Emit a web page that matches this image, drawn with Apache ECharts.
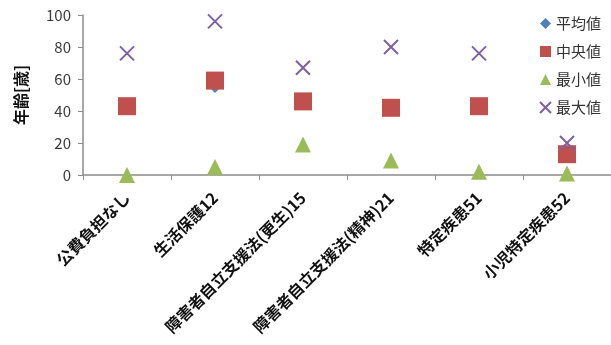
<!DOCTYPE html>
<html>
<head>
<meta charset="utf-8">
<script src="https://cdn.jsdelivr.net/npm/echarts@6/dist/echarts.min.js"></script>
<style>
  html, body { margin: 0; padding: 0; background: #fff; }
  #chart { width: 611px; height: 345px; }
</style>
</head>
<body>
<div id="chart"></div>
<script>
// Age statistics by public-expense category
const categories = ['公費負担なし', '生活保護12', '障害者自立支援法(更生)15', '障害者自立支援法(精神)21', '特定疾患51', '小児特定疾患52'];
const meanValues   = [43, 54, 47, 44, 43, 14];
const medianValues = [43, 59, 46, 42, 43, 13];
const minValues    = [0, 5, 19, 9, 2, 1];
const maxValues    = [76, 96, 67, 80, 76, 20];
const yTicks = [0, 20, 40, 60, 80, 100];

const FONT = '"Noto Sans CJK JP", "Noto Sans", sans-serif';
const crossPath = 'path://M0,0L10,10M10,0L0,10';

const chart = echarts.init(document.getElementById('chart'), null, { renderer: 'canvas' });
chart.setOption({
  backgroundColor: '#ffffff',
  animation: false,
  textStyle: { fontFamily: FONT },
  grid: { left: 83, top: 15, width: 531, height: 160, containLabel: false },
  legend: {
    orient: 'vertical',
    left: 534,
    top: 11,
    itemGap: 13,
    itemWidth: 11,
    itemHeight: 11,
    textStyle: { fontSize: 15, color: '#333', fontFamily: FONT },
    data: [
      { name: '平均値', icon: 'diamond' },
      { name: '中央値', icon: 'rect' },
      { name: '最小値', icon: 'triangle' },
      { name: '最大値', icon: crossPath }
    ]
  },
  xAxis: {
    type: 'category',
    data: categories,
    boundaryGap: true,
    axisLine: { lineStyle: { color: '#8c8c8c', width: 1.5 } },
    axisTick: { show: true, alignWithLabel: false, length: 5, lineStyle: { color: '#8c8c8c' } },
    axisLabel: {
      rotate: 45,
      interval: 0,
      margin: 20,
      fontSize: 16,
      fontWeight: 'bold',
      color: '#111',
      fontFamily: FONT
    },
    splitLine: { show: false }
  },
  yAxis: {
    type: 'value',
    min: yTicks[0],
    max: yTicks[yTicks.length - 1],
    interval: 20,
    name: '年齢[歳]',
    nameLocation: 'middle',
    nameGap: 54,
    nameRotate: 90,
    nameTextStyle: { fontSize: 16, fontWeight: 'bold', color: '#111', fontFamily: FONT },
    axisLine: { show: true, lineStyle: { color: '#8c8c8c', width: 1.5 } },
    axisTick: { show: true, length: 5, lineStyle: { color: '#8c8c8c' } },
    axisLabel: { fontSize: 15, color: '#3a3a3a', margin: 12, fontFamily: FONT },
    splitLine: { show: false }
  },
  series: [
    {
      name: '平均値',
      type: 'scatter',
      data: meanValues,
      symbol: 'diamond',
      symbolSize: 9,
      itemStyle: { color: '#4f81bd', opacity: 1 }
    },
    {
      name: '中央値',
      type: 'scatter',
      data: medianValues,
      symbol: 'rect',
      symbolSize: 18,
      itemStyle: { color: '#c0504d', opacity: 1 }
    },
    {
      name: '最小値',
      type: 'scatter',
      data: minValues,
      symbol: 'triangle',
      symbolSize: 16,
      itemStyle: { color: '#9bbb59', opacity: 1 }
    },
    {
      name: '最大値',
      type: 'scatter',
      data: maxValues,
      symbol: crossPath,
      symbolSize: 14,
      itemStyle: { color: 'transparent', borderColor: '#7d60a0', borderWidth: 2, opacity: 1 }
    }
  ]
});
</script>
</body>
</html>
